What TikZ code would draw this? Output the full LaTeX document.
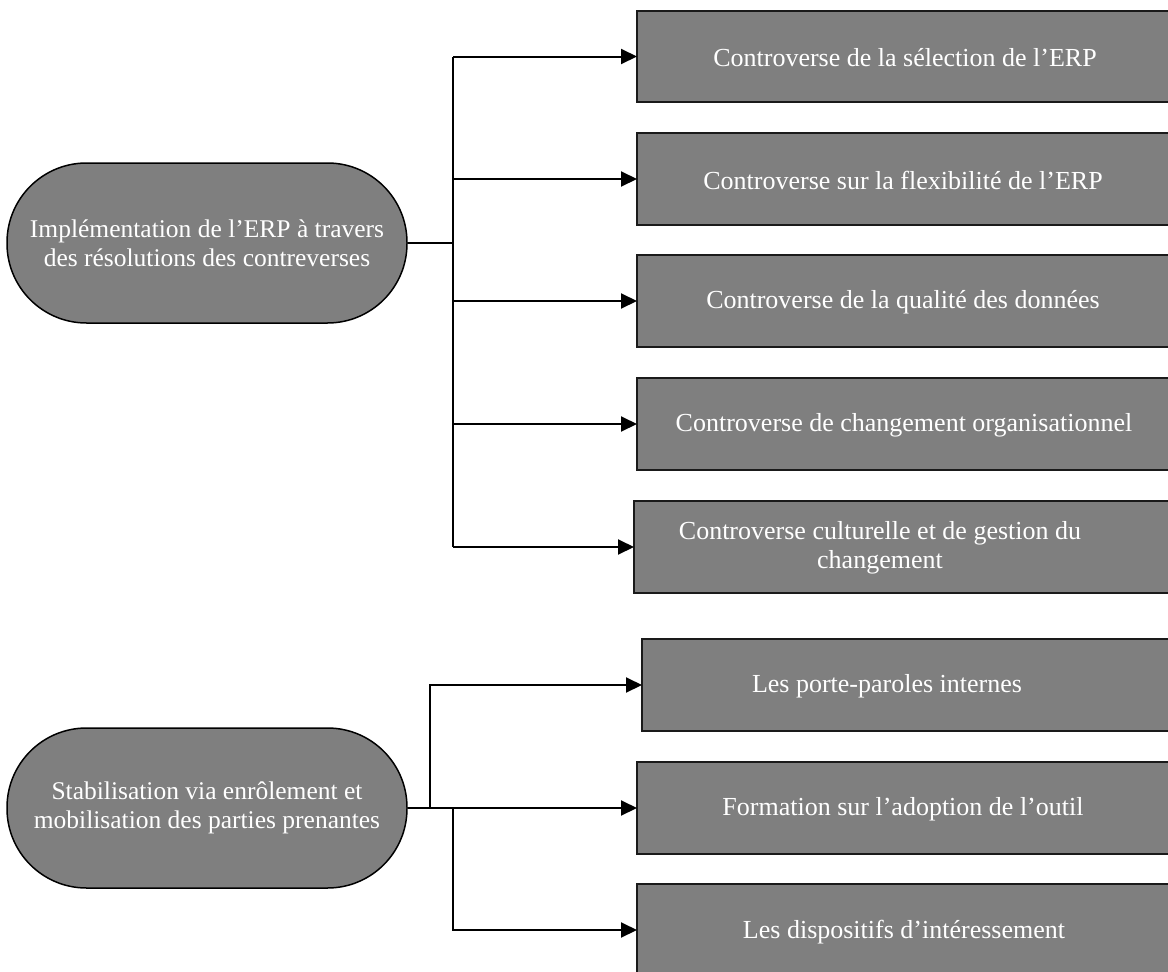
\documentclass[tikz,border=0pt]{standalone}
\usepackage{fontspec}
\setmainfont{Liberation Serif}
\usetikzlibrary{arrows.meta}
\definecolor{grayfill}{HTML}{7F7F7F}
\definecolor{edgecol}{HTML}{1A1A1A}
\begin{document}
\begin{tikzpicture}[x=1pt,y=-1pt,
  boxshape/.style={draw=edgecol, line width=1.6pt, fill=grayfill, rectangle, inner sep=0pt,
    outer sep=0pt, anchor=north west, minimum width=540pt},
  lbl/.style={text=white, font=\fontsize{26}{29.5}\selectfont, align=center, inner sep=0pt},
  ovalshape/.style={draw=black, line width=1.5pt, fill=grayfill, rectangle, rounded corners=79.5pt,
    minimum width=400pt, minimum height=160pt, inner sep=0pt, text=white,
    font=\fontsize{25.5}{29}\selectfont, align=center},
  conn/.style={draw=black, line width=2pt},
  arr/.style={conn, -{Triangle[length=16pt,width=15pt]}}
]
\clip (0,0) rectangle (1168,972);
\fill[white] (0,0) rectangle (1168,972);

% top boxes
\node[boxshape, minimum height=91pt] (b1) at (637,11) {};
\node[boxshape, minimum height=92pt] (b2) at (637,133) {};
\node[boxshape, minimum height=92pt] (b3) at (637,255) {};
\node[boxshape, minimum height=92pt] (b4) at (637,378) {};
\node[boxshape, minimum height=92pt] (b5) at (634,501) {};
% bottom boxes
\node[boxshape, minimum height=92pt] (c1) at (642,639) {};
\node[boxshape, minimum height=92pt] (c2) at (637,762) {};
\node[boxshape, minimum height=92pt] (c3) at (637,884) {};

% labels
\node[lbl] (t1) at (905,58) {Controverse de la sélection de l’ERP};
\node[lbl] (t2) at (903,180) {Controverse sur la flexibilité de l’ERP};
\node[lbl] (t3) at (903,302) {Controverse de la qualité des données};
\node[lbl] (t4) at (904,425) {Controverse de changement organisationnel};
\node[lbl] (t5) at (880,548) {Controverse culturelle et de gestion du\\changement};
\node[lbl] (u1) at (887,686) {Les porte-paroles internes};
\node[lbl] (u2) at (903,809) {Formation sur l’adoption de l’outil};
\node[lbl] (u3) at (904,932) {Les dispositifs d’intéressement};

% ovals
\node[ovalshape] (o1) at (207,243) {Implémentation de l’ERP à travers\\des résolutions des contreverses};
\node[ovalshape] (o2) at (207,808) {Stabilisation via enrôlement et\\mobilisation des parties prenantes};

% top connectors
\coordinate (j1) at (453,243);
\draw[conn] (o1.east) -- (j1);
\draw[conn] (j1 |- b1.west) -- (j1 |- b5.west);
\draw[arr] (j1 |- b1.west) -- (b1.west);
\draw[arr] (j1 |- b2.west) -- (b2.west);
\draw[arr] (j1 |- b3.west) -- (b3.west);
\draw[arr] (j1 |- b4.west) -- (b4.west);
\draw[arr] (j1 |- b5.west) -- (b5.west);

% bottom connectors
\coordinate (j2) at (430,808);
\coordinate (j3) at (453,808);
\draw[arr] (o2.east) -- (c2.west);
\draw[arr] (j2) |- (c1.west);
\draw[arr] (j3) |- (c3.west);
\end{tikzpicture}
\end{document}
